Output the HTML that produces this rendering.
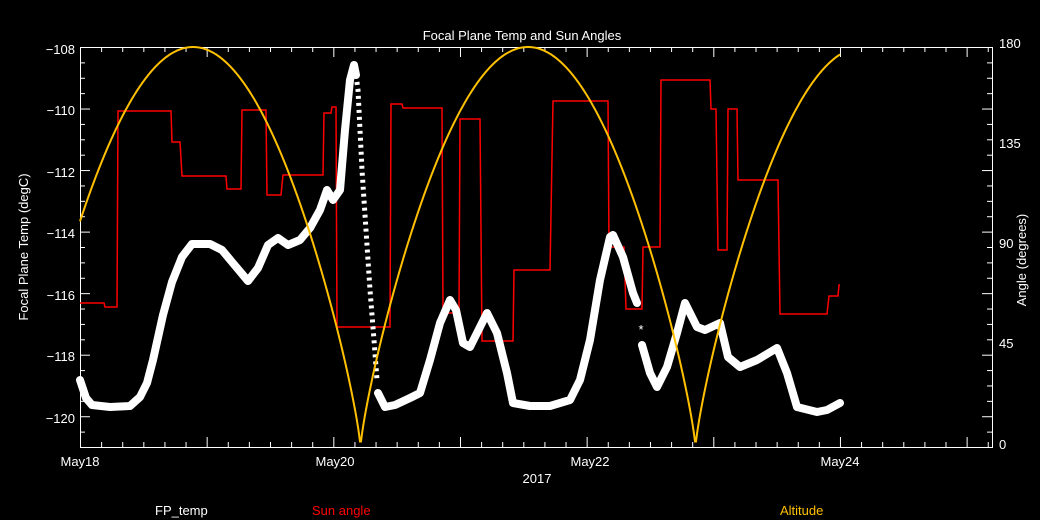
<!DOCTYPE html>
<html><head><meta charset="utf-8"><style>
html,body{margin:0;padding:0;background:#000;}
svg{display:block;}
text{font-family:"Liberation Sans",sans-serif;font-size:13px;}
</style></head><body>
<svg id="s" width="1040" height="520" viewBox="0 0 1040 520" xmlns="http://www.w3.org/2000/svg">
<rect width="1040" height="520" fill="#000"/>
<text x="522" y="40" fill="#fff" font-size="15" text-anchor="middle">Focal Plane Temp and Sun Angles</text>
<g id="ticks" stroke="#fff" stroke-width="1"></g>
<rect x="80.5" y="47.5" width="912" height="400" fill="none" stroke="#fff" stroke-width="1"/>
<g fill="#fff" text-anchor="end">
<text x="75" y="54">−108</text><text x="75" y="115">−110</text><text x="75" y="177">−112</text>
<text x="75" y="238">−114</text><text x="75" y="300">−116</text><text x="75" y="361">−118</text><text x="75" y="423">−120</text>
</g>
<g fill="#fff">
<text x="999" y="48">180</text><text x="999" y="148">135</text><text x="999" y="248">90</text>
<text x="999" y="348">45</text><text x="999" y="449">0</text>
</g>
<g fill="#fff" text-anchor="middle">
<text x="80" y="466">May18</text><text x="335" y="466">May20</text><text x="590" y="466">May22</text><text x="840" y="466">May24</text>
<text x="537" y="483">2017</text>
</g>
<text transform="translate(28,247) rotate(-90)" fill="#fff" text-anchor="middle">Focal Plane Temp (degC)</text>
<text transform="translate(1026,260) rotate(-90)" fill="#fff" text-anchor="middle">Angle (degrees)</text>
<text x="155" y="515" fill="#fff">FP_temp</text>
<text x="312" y="515" fill="#f00">Sun angle</text>
<text x="780" y="515" fill="#ffc000">Altitude</text>

<polyline fill="none" stroke="#f00" stroke-width="1.5" points="
80,303 104,303 105,307 117,307 118,111 171,111 172,142 180,142 182,176 226,176 227,189 241,189 242,110 266,110 267,195 281,195 283,175 323,175 324,113 331,113 332,107 336,107 337,327 390,327 391,104 402,104 403,108 442,108 443,313 459,313 460,119 480,119 482,341 513,341 514,270 550,270 553,101 608,101 609,247 624,247 626,309 642,309 643,247 660,247 661,80 710,80 711,109 716,109 718,250 727,250 728,109 737,109 738,180 778,180 780,314 827,314 829,296 838,296 839,285 840,285"/>

<polyline fill="none" stroke="#fff" stroke-width="8" stroke-linejoin="round" stroke-linecap="round" points="
80,380 86,398 92,405 110,407 130,406 140,397 147,383 153,360 163,315 172,282 182,257 192,244 210,244 222,250 232,262 248,281 258,268 268,245 278,238 288,245 300,240 310,228 320,210 327,190 333,200 340,190 345,130 350,80 354,65 356,75"/>
<polyline fill="none" stroke="#fff" stroke-width="5" stroke-dasharray="3,4" points="356,75 358,90 362,170 366,230 370,290 374,340 377,380"/>
<polyline fill="none" stroke="#fff" stroke-width="8" stroke-linejoin="round" stroke-linecap="round" points="
378,393 385,407 395,405 410,398 420,393 430,360 440,323 450,300 456,310 463,343 470,347 477,333 487,313 497,333 507,373 513,403 530,406 550,406 570,400 580,380 590,340 600,280 610,237 613,235 623,257 633,293 637,303"/>
<text x="641" y="334" fill="#fff" font-size="12" text-anchor="middle">*</text>
<polyline fill="none" stroke="#fff" stroke-width="8" stroke-linejoin="round" stroke-linecap="round" points="
642,345 650,373 657,387 667,367 677,333 685,303 697,327 705,330 720,323 728,357 740,367 757,360 777,348 787,373 797,407 817,412 827,410 840,403"/>
<polyline id="alt" fill="none" stroke="#ffc000" stroke-width="2"/>
</svg>
<script>
(function(){
var pts=[];
for(var x=80;x<=840;x+=1){
 var ph=(x-193)/335*Math.PI;
 var a=180*Math.pow(Math.abs(Math.cos(ph)),0.8);
 pts.push(x+","+(447-a*400/180).toFixed(1));
}
document.getElementById("alt").setAttribute("points",pts.join(" "));
var g=document.getElementById("ticks"),h="";
function L(x1,y1,x2,y2){h+='<line x1="'+x1+'" y1="'+y1+'" x2="'+x2+'" y2="'+y2+'"/>';}
for(var i=0;i<=26;i++){
 var y=447-i*15.385+0.5; var len=(i%4==2)?10:5;
 if(y<47)break;
 L(80,y,80+len,y);L(992,y,992-len,y);
}
for(var j=0;j<=43;j++){
 var x=80+j*21.11+0.5; if(x>992)break;
 var len2=(j%6==0)?10:5;
 L(x,447,x,447-len2);L(x,47,x,47+len2);
}
g.innerHTML=h;
})();
</script>
</body></html>
